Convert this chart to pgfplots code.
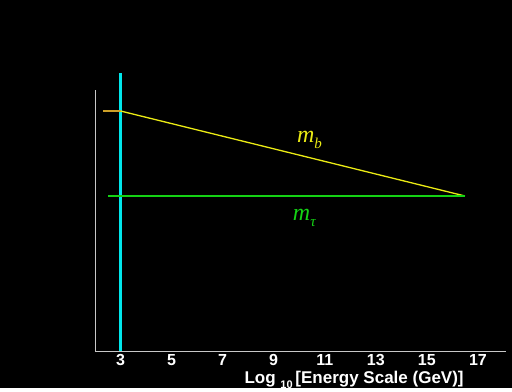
\documentclass[border=0pt]{standalone}
\usepackage{pgfplots}
\pgfplotsset{compat=1.18}
\usepackage{fontspec}
\setmainfont{Liberation Sans}
\newfontfamily\serif{Liberation Serif}
\definecolor{myyellow}{RGB}{235,235,20}
\definecolor{myorange}{RGB}{205,160,40}
\definecolor{mygreen}{RGB}{20,210,20}
\definecolor{mycyan}{RGB}{0,230,235}
\definecolor{axgray}{RGB}{200,200,200}
\begin{document}
\begin{tikzpicture}
\fill[black] (-95pt,-37pt) rectangle (417pt,351pt);
\begin{axis}[
  scale only axis,
  width=411pt, height=261pt,
  xmin=2, xmax=18.1, ymin=0, ymax=261,
  axis lines=left,
  axis line style={-, axgray, line width=0.8pt},
  xtick={3,5,7,9,11,13,15,17},
  ytick=\empty,
  major tick length=0pt,
  xticklabel style={font=\fontsize{16}{16}\selectfont\bfseries, text=white, inner sep=1pt, yshift=-2.5pt},
  /pgf/number format/assume math mode=true,
  clip=false,
]
\addplot[mycyan, line width=3.5pt] coordinates {(3,0) (3,278)};
\addplot[myorange, line width=1.3pt] coordinates {(2.31,240) (3,240)};
\addplot[myyellow, line width=1.3pt] coordinates {(3,240) (16.49,155)};
\addplot[mygreen, line width=1.3pt] coordinates {(2.51,155) (16.49,155)};
\node[text=myyellow, font=\serif\fontsize{24}{24}\selectfont\itshape] at (axis cs:10.4,211) {m\raisebox{-0.25em}{\fontsize{15}{15}\selectfont b}};
\node[text=mygreen, font=\serif\fontsize{24}{24}\selectfont\itshape] at (axis cs:10.2,133) {m\raisebox{-0.25em}{\fontsize{15}{15}\selectfont τ}};
\node[text=white, font=\fontsize{17}{17}\selectfont\bfseries] at (axis cs:12.15,-28.5) {Log \raisebox{-0.3em}{\fontsize{11}{11}\selectfont 10}\,[Energy Scale (GeV)]};
\end{axis}
\end{tikzpicture}
\end{document}
